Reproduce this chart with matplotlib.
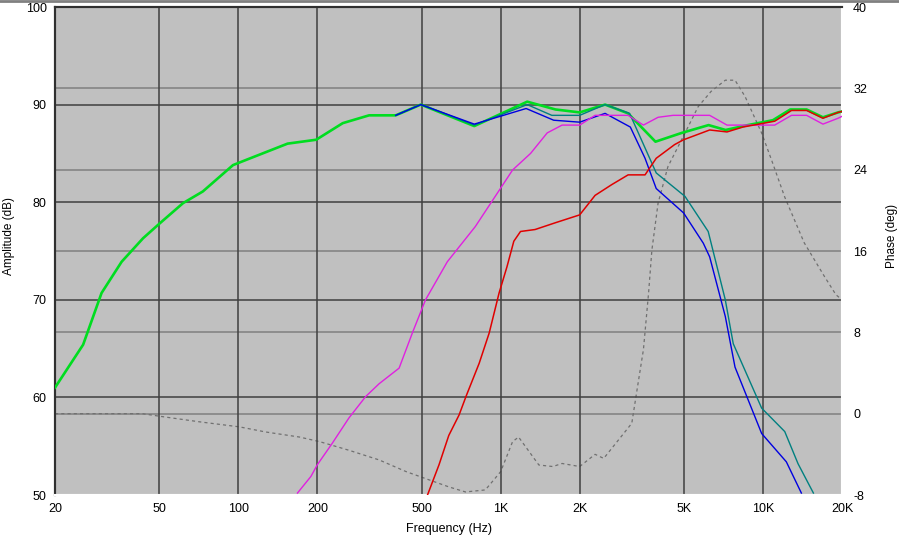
import numpy as np
import matplotlib
matplotlib.use("Agg")
import matplotlib.pyplot as plt
from matplotlib.ticker import FixedLocator, FixedFormatter, NullLocator

plt.rcParams['font.family'] = ['Liberation Sans', 'DejaVu Sans']

# ---- data ----
x_ticks = [20, 50, 100, 200, 500, 1000, 2000, 5000, 10000, 20000]
x_tick_labels = ['20', '50', '100', '200', '500', '1K', '2K', '5K', '10K', '20K']
amp_ticks = [50, 60, 70, 80, 90, 100]
phase_ticks = [-8, 0, 8, 16, 24, 32, 40]

green_f = [20, 25.6, 30.1, 35.9, 43.3, 50, 61.5, 73.2, 95.4, 108.6, 154, 198, 250, 315, 398, 496,
           793, 1262, 1618, 2000, 2500, 3060, 3890, 4900, 6200, 7200, 8760, 10900, 12700, 14660,
           16920, 19320, 20000]
green_db = [61.0, 65.4, 70.7, 73.9, 76.3, 77.8, 79.9, 81.1, 83.8, 84.4, 86.0, 86.4, 88.1, 88.9, 88.9, 90.0,
            87.8, 90.3, 89.5, 89.2, 90.0, 89.1, 86.2, 87.1, 87.9, 87.4, 87.9, 88.4, 89.5, 89.5,
            88.7, 89.2, 89.3]

teal_f = [398, 496, 793, 1262, 1566, 2000, 2500, 3100, 3916, 5040, 6180, 7180, 7700, 9880,
          12100, 13600, 15560]
teal_db = [88.9, 90.0, 87.9, 90.0, 88.9, 88.9, 90.0, 89.1, 83.0, 80.6, 77.0, 70.0, 65.5, 58.9,
           56.5, 53.2, 50.2]

blue_f = [398, 496, 793, 1250, 1592, 2000, 2500, 3120, 3550, 3916, 4980, 5920, 6260, 7180,
          7820, 9880, 12270, 14000]
blue_db = [88.9, 90.0, 88.0, 89.6, 88.4, 88.2, 89.1, 87.7, 84.5, 81.4, 78.9, 75.8, 74.4, 68.3,
           63.1, 56.3, 53.4, 50.2]

mag_f = [168, 189, 200, 228, 264, 306, 344, 410, 462, 517, 626, 800, 986, 1110, 1300, 1504, 1714,
         2000, 2290, 3060, 3500, 3980, 4540, 6260, 7290, 11080, 12840, 14660, 16920, 19320, 20000]
mag_db = [50.2, 51.9, 53.1, 55.3, 57.9, 60.1, 61.4, 63.0, 66.7, 70.0, 73.9, 77.5, 81.2, 83.3, 85.0,
          87.1, 87.9, 87.9, 88.9, 88.9, 87.9, 88.7, 88.9, 88.9, 87.9, 87.9, 88.9, 88.9, 88.0, 88.6, 88.8]

red_f = [526, 582, 634, 694, 740, 828, 904, 986, 1057, 1122, 1190, 1352, 1618, 2000, 2290, 2650,
         3060, 3550, 3916, 4600, 4980, 6260, 7290, 8380, 11080, 12840, 14660, 16920, 19320, 20000]
red_db = [50.0, 53.1, 56.1, 58.2, 60.2, 63.5, 66.6, 70.7, 73.4, 76.0, 77.0, 77.2, 77.9, 78.7, 80.7,
          81.8, 82.8, 82.8, 84.5, 85.9, 86.4, 87.4, 87.2, 87.7, 88.3, 89.4, 89.4, 88.6, 89.2, 89.3]

phase_f = [20, 43, 50, 71, 101, 127, 171, 204, 264, 344, 436, 532, 634, 734, 874, 1000, 1110, 1170,
           1398, 1580, 1714, 2000, 2290, 2470, 3160, 3340, 3500, 3660, 3770, 3980, 4340, 5040, 5660,
           6340, 7180, 7820, 8540, 9880, 10760, 12100, 14360, 17140, 18960, 20000]
phase_deg = [0.0, 0.0, -0.25, -0.8, -1.3, -1.8, -2.3, -2.75, -3.6, -4.55, -5.7, -6.5, -7.2, -7.7, -7.5,
             -5.7, -2.75, -2.3, -5.05, -5.2, -4.9, -5.2, -4.0, -4.4, -0.95, 3.0, 6.3, 11.8, 16.1, 20.7,
             24.3, 27.6, 30.2, 31.7, 32.8, 32.8, 31.2, 27.6, 25.0, 21.3, 16.8, 13.5, 11.7, 11.2]

# ---- figure ----
W, H = 899, 536
fig = plt.figure(figsize=(W / 100, H / 100), dpi=100, facecolor='white')
L, R, T, B = 55, 842, 7, 495
ax = fig.add_axes([L / W, 1 - B / H, (R - L) / W, (B - T) / H])
ax.set_xscale('log')
ax.set_xlim(20, 20000)
ax.set_ylim(50, 100)

ax2 = ax.twinx()
ax2.set_ylim(-8, 40)

# grid lines (phase grid lighter, amplitude/frequency grid darker)
for p in phase_ticks[1:-1]:
    ax2.axhline(p, color='#808080', lw=1.1, zorder=1)
for a in amp_ticks[1:-1]:
    ax.axhline(a, color='#404040', lw=1.1, zorder=1)
for f in x_ticks[1:-1]:
    ax.axvline(f, color='#404040', lw=1.1, zorder=1)

# curves
ax.plot(green_f, green_db, color='#00DD20', lw=1.9, zorder=3, solid_joinstyle='round')
ax.plot(teal_f, teal_db, color='#008080', lw=1.0, zorder=4)
ax.plot(blue_f, blue_db, color='#0000E0', lw=1.0, zorder=4)
ax.plot(mag_f, mag_db, color='#E020E0', lw=1.0, zorder=4)
ax.plot(red_f, red_db, color='#E00000', lw=1.1, zorder=5)
ax2.plot(phase_f, phase_deg, color='#707070', lw=0.9, ls=(0, (2.5, 2.5)), zorder=2)

ax.set_zorder(ax2.get_zorder() + 1)
ax.patch.set_visible(False)
ax2.patch.set_visible(True)
ax2.patch.set_facecolor('#C0C0C0')

# ticks
fs = 9
ax.xaxis.set_major_locator(FixedLocator(x_ticks))
ax.xaxis.set_major_formatter(FixedFormatter(x_tick_labels))
ax.xaxis.set_minor_locator(NullLocator())
ax.set_yticks(amp_ticks)
ax.set_yticklabels([str(v) for v in amp_ticks])
ax2.set_yticks(phase_ticks)
ax2.set_yticklabels([str(v) for v in phase_ticks])
ax.tick_params(axis='x', length=0, pad=6, labelsize=fs)
ax.tick_params(axis='y', length=0, pad=6, labelsize=fs)
ax2.tick_params(axis='y', length=0, pad=8, labelsize=fs)

ax.set_xlabel('Frequency (Hz)', fontsize=fs)
ax.xaxis.set_label_coords(0.5, -0.058)
ax.set_ylabel('Amplitude (dB)', fontsize=8.5)
ax.yaxis.set_label_coords(-0.051, 0.53)
ax2.set_ylabel('Phase (deg)', fontsize=8.5, rotation=90)
ax2.yaxis.set_label_coords(1.056, 0.53)

for a_ in (ax, ax2):
    a_.spines['top'].set_color('#303030')
    a_.spines['left'].set_color('#303030')
    a_.spines['right'].set_color('white')
    a_.spines['bottom'].set_color('white')
    for s in a_.spines.values():
        s.set_linewidth(1.5)

# window frame line at top
fig.add_artist(plt.Line2D([0, 1], [0.998, 0.998], color='#808080', lw=2, transform=fig.transFigure))

fig.savefig('out.png', dpi=100, facecolor='white')
